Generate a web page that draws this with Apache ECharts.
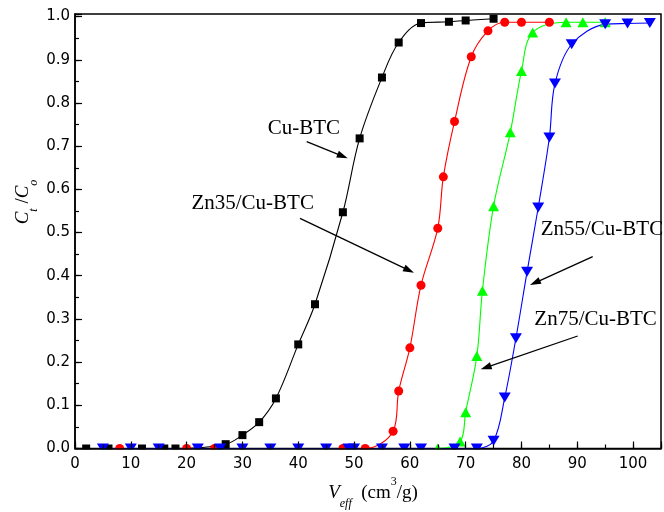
<!DOCTYPE html>
<html>
<head>
<meta charset="utf-8">
<script src="https://cdn.jsdelivr.net/npm/echarts@6/dist/echarts.min.js"></script>
<style>
html,body{margin:0;padding:0;background:#fff;}
#chart{width:664px;height:512px;}
</style>
</head>
<body>
<div id="chart"></div>
<script>
// ---- data ----
const xCu   = [2, 6, 12, 16, 18, 27, 30, 33, 36, 40, 43, 48, 51, 55, 58, 62, 67, 70, 75];
const yCu   = [0, 0, 0, 0, 0, 0.01, 0.031, 0.061, 0.116, 0.241, 0.334, 0.547, 0.718, 0.859, 0.94, 0.985, 0.988, 0.991, 0.995];

const xZn35 = [8, 20, 25, 48, 52, 57, 58, 60, 62, 65, 66, 68, 71, 74, 77, 80, 85];
const yZn35 = [0, 0, 0, 0, 0, 0.04, 0.133, 0.233, 0.378, 0.51, 0.629, 0.757, 0.907, 0.967, 0.987, 0.987, 0.987];

const xZn55 = [5, 10, 15, 22, 26, 30, 35, 40, 45, 49, 50, 55, 59, 62, 65, 69, 70, 72, 73, 75, 78, 80, 82, 88, 91, 95];
const yZn55 = [0, 0, 0, 0, 0, 0, 0, 0, 0, 0, 0, 0, 0, 0, 0, 0.016, 0.084, 0.214, 0.365, 0.561, 0.732, 0.874, 0.963, 0.987, 0.987, 0.987];

const xZn75 = [5, 10, 15, 22, 26, 30, 35, 40, 45, 49, 50, 55, 59, 62, 68, 72, 75, 77, 79, 81, 83, 85, 86, 89, 95, 99, 103];
const yZn75 = [0, 0, 0, 0, 0, 0, 0, 0, 0, 0, 0, 0, 0, 0, 0, 0, 0.018, 0.118, 0.255, 0.409, 0.558, 0.72, 0.845, 0.936, 0.982, 0.984, 0.985];

const seriesNames = ['Cu-BTC', 'Zn35/Cu-BTC', 'Zn55/Cu-BTC', 'Zn75/Cu-BTC'];
const xTickLabels = [0, 10, 20, 30, 40, 50, 60, 70, 80, 90, 100];
const yTickLabels = ['0.0', '0.1', '0.2', '0.3', '0.4', '0.5', '0.6', '0.7', '0.8', '0.9', '1.0'];

// ---- chart ----
const SERIF = '"Times New Roman", "Liberation Serif", serif';
const SANS = '"DejaVu Sans", sans-serif';
const pair = (xs, ys) => xs.map((x, i) => [x, ys[i]]);

const chart = echarts.init(document.getElementById('chart'), null, {renderer: 'canvas'});

function lineSeries(name, xs, ys, color, symbol, size, rotate) {
  return {
    name: name,
    type: 'line',
    xAxisIndex: 0,
    yAxisIndex: 0,
    data: pair(xs, ys),
    smooth: 0.35,
    symbol: symbol,
    symbolSize: size,
    symbolRotate: rotate || 0,
    showAllSymbol: true,
    lineStyle: {color: color, width: 1.1},
    itemStyle: {color: color},
    clip: false,
    z: 2
  };
}

const axisLabelX = {
  show: true, color: '#000', fontFamily: SANS, fontSize: 15, margin: 8,
  formatter: v => {
    const r = Math.round(v);
    return (Math.abs(v - r) < 1e-6 && xTickLabels.indexOf(r) >= 0) ? String(r) : '';
  }
};
const axisLabelY = {
  show: true, color: '#000', fontFamily: SANS, fontSize: 15, margin: 5,
  formatter: v => {
    const t = Math.round(v * 10);
    return Math.abs(v * 10 - t) < 1e-6 ? yTickLabels[t] : '';
  }
};

const option = {
  animation: false,
  backgroundColor: '#fff',
  grid: {left: 75, right: 2, top: 14, bottom: 63.5, show: true, borderColor: '#000', borderWidth: 1.5, backgroundColor: 'transparent'},
  xAxis: [
    {
      type: 'value', min: 0, max: 105, interval: 5, position: 'bottom',
      axisLine: {show: true, onZero: false, lineStyle: {color: '#000', width: 1.5}},
      axisTick: {show: true, inside: true, length: 4, lineStyle: {color: '#000', width: 1.2}},
      axisLabel: axisLabelX,
      splitLine: {show: false},
      z: 6
    },
    {
      type: 'value', min: 0, max: 105, interval: 10, position: 'bottom',
      axisLine: {show: false, onZero: false},
      axisTick: {show: true, inside: true, length: 7, lineStyle: {color: '#000', width: 1.2}},
      axisLabel: {show: false},
      splitLine: {show: false},
      z: 6
    }
  ],
  yAxis: [
    {
      type: 'value', min: 0, max: 1.006, interval: 0.05, position: 'left',
      axisLine: {show: true, onZero: false, lineStyle: {color: '#000', width: 1.5}},
      axisTick: {show: true, inside: true, length: 4, lineStyle: {color: '#000', width: 1.2}},
      axisLabel: axisLabelY,
      splitLine: {show: false},
      z: 6
    },
    {
      type: 'value', min: 0, max: 1.006, interval: 0.1, position: 'left',
      axisLine: {show: false, onZero: false},
      axisTick: {show: true, inside: true, length: 7, lineStyle: {color: '#000', width: 1.2}},
      axisLabel: {show: false},
      splitLine: {show: false},
      z: 6
    }
  ],
  series: [
    lineSeries(seriesNames[0], xCu, yCu, '#000000', 'rect', 8),
    lineSeries(seriesNames[1], xZn35, yZn35, '#ff0000', 'circle', 9),
    lineSeries(seriesNames[2], xZn55, yZn55, '#00ff00', 'triangle', [11, 10]),
    lineSeries(seriesNames[3], xZn75, yZn75, '#0000ff', 'triangle', [12, 10], 180)
  ]
};
chart.setOption(option);

// ---- annotations (pixel layout) ----
function arrow(x1, y1, x2, y2) {
  const L = 11, W = 3.6;
  const dx = x2 - x1, dy = y2 - y1, d = Math.hypot(dx, dy);
  const ux = dx / d, uy = dy / d;
  const bx = x2 - ux * L, by = y2 - uy * L;
  return [
    {type: 'line', z: 10, shape: {x1: x1, y1: y1, x2: bx + ux * 2, y2: by + uy * 2}, style: {stroke: '#000', lineWidth: 1.3}},
    {type: 'polygon', z: 10, shape: {points: [[x2, y2], [bx - uy * W, by + ux * W], [bx + uy * W, by - ux * W]]}, style: {fill: '#000'}}
  ];
}
function label(text, x, y) {
  return {type: 'text', z: 10, x: x, y: y, style: {text: text, font: '21px ' + SERIF, fill: '#000', align: 'left', verticalAlign: 'middle'}};
}
const richBase = {
  i: {fontFamily: SERIF, fontStyle: 'italic', fontSize: 19, lineHeight: 34, verticalAlign: 'middle', color: '#000'},
  n: {fontFamily: SERIF, fontSize: 19, lineHeight: 34, verticalAlign: 'middle', color: '#000'},
  sub: {fontFamily: SERIF, fontStyle: 'italic', fontSize: 12, verticalAlign: 'bottom', color: '#000'},
  sup: {fontFamily: SERIF, fontSize: 12, verticalAlign: 'top', color: '#000'}
};

const elements = [
  // mask so markers sitting on y = 0 are clipped by the axis like the original
  {type: 'rect', z: 5, shape: {x: 74, y: 449.4, width: 590, height: 6.5}, style: {fill: '#fff'}},
  label(seriesNames[0], 267.7, 128),
  label(seriesNames[1], 191.4, 203),
  label(seriesNames[2], 540.7, 229),
  label(seriesNames[3], 534.3, 319),
  ...arrow(306.7, 141.7, 347.7, 158.3),
  ...arrow(300, 218.3, 414, 272.7),
  ...arrow(592.7, 256.7, 530, 285),
  ...arrow(577.7, 336, 480.7, 369.3),
  {type: 'text', z: 10, x: 373, y: 493, style: {text: '{i|V}{sub|eff}{n|  (cm}{sup|3}{n|/g)}', rich: richBase, align: 'center', verticalAlign: 'middle'}},
  {type: 'text', z: 10, x: 23, y: 202, rotation: Math.PI / 2, style: {text: '{i|C}{sub|t}{n| /}{i|C}{sub|o}', rich: richBase, align: 'center', verticalAlign: 'middle'}}
];
chart.setOption({graphic: {elements: elements}});
</script>
</body>
</html>
